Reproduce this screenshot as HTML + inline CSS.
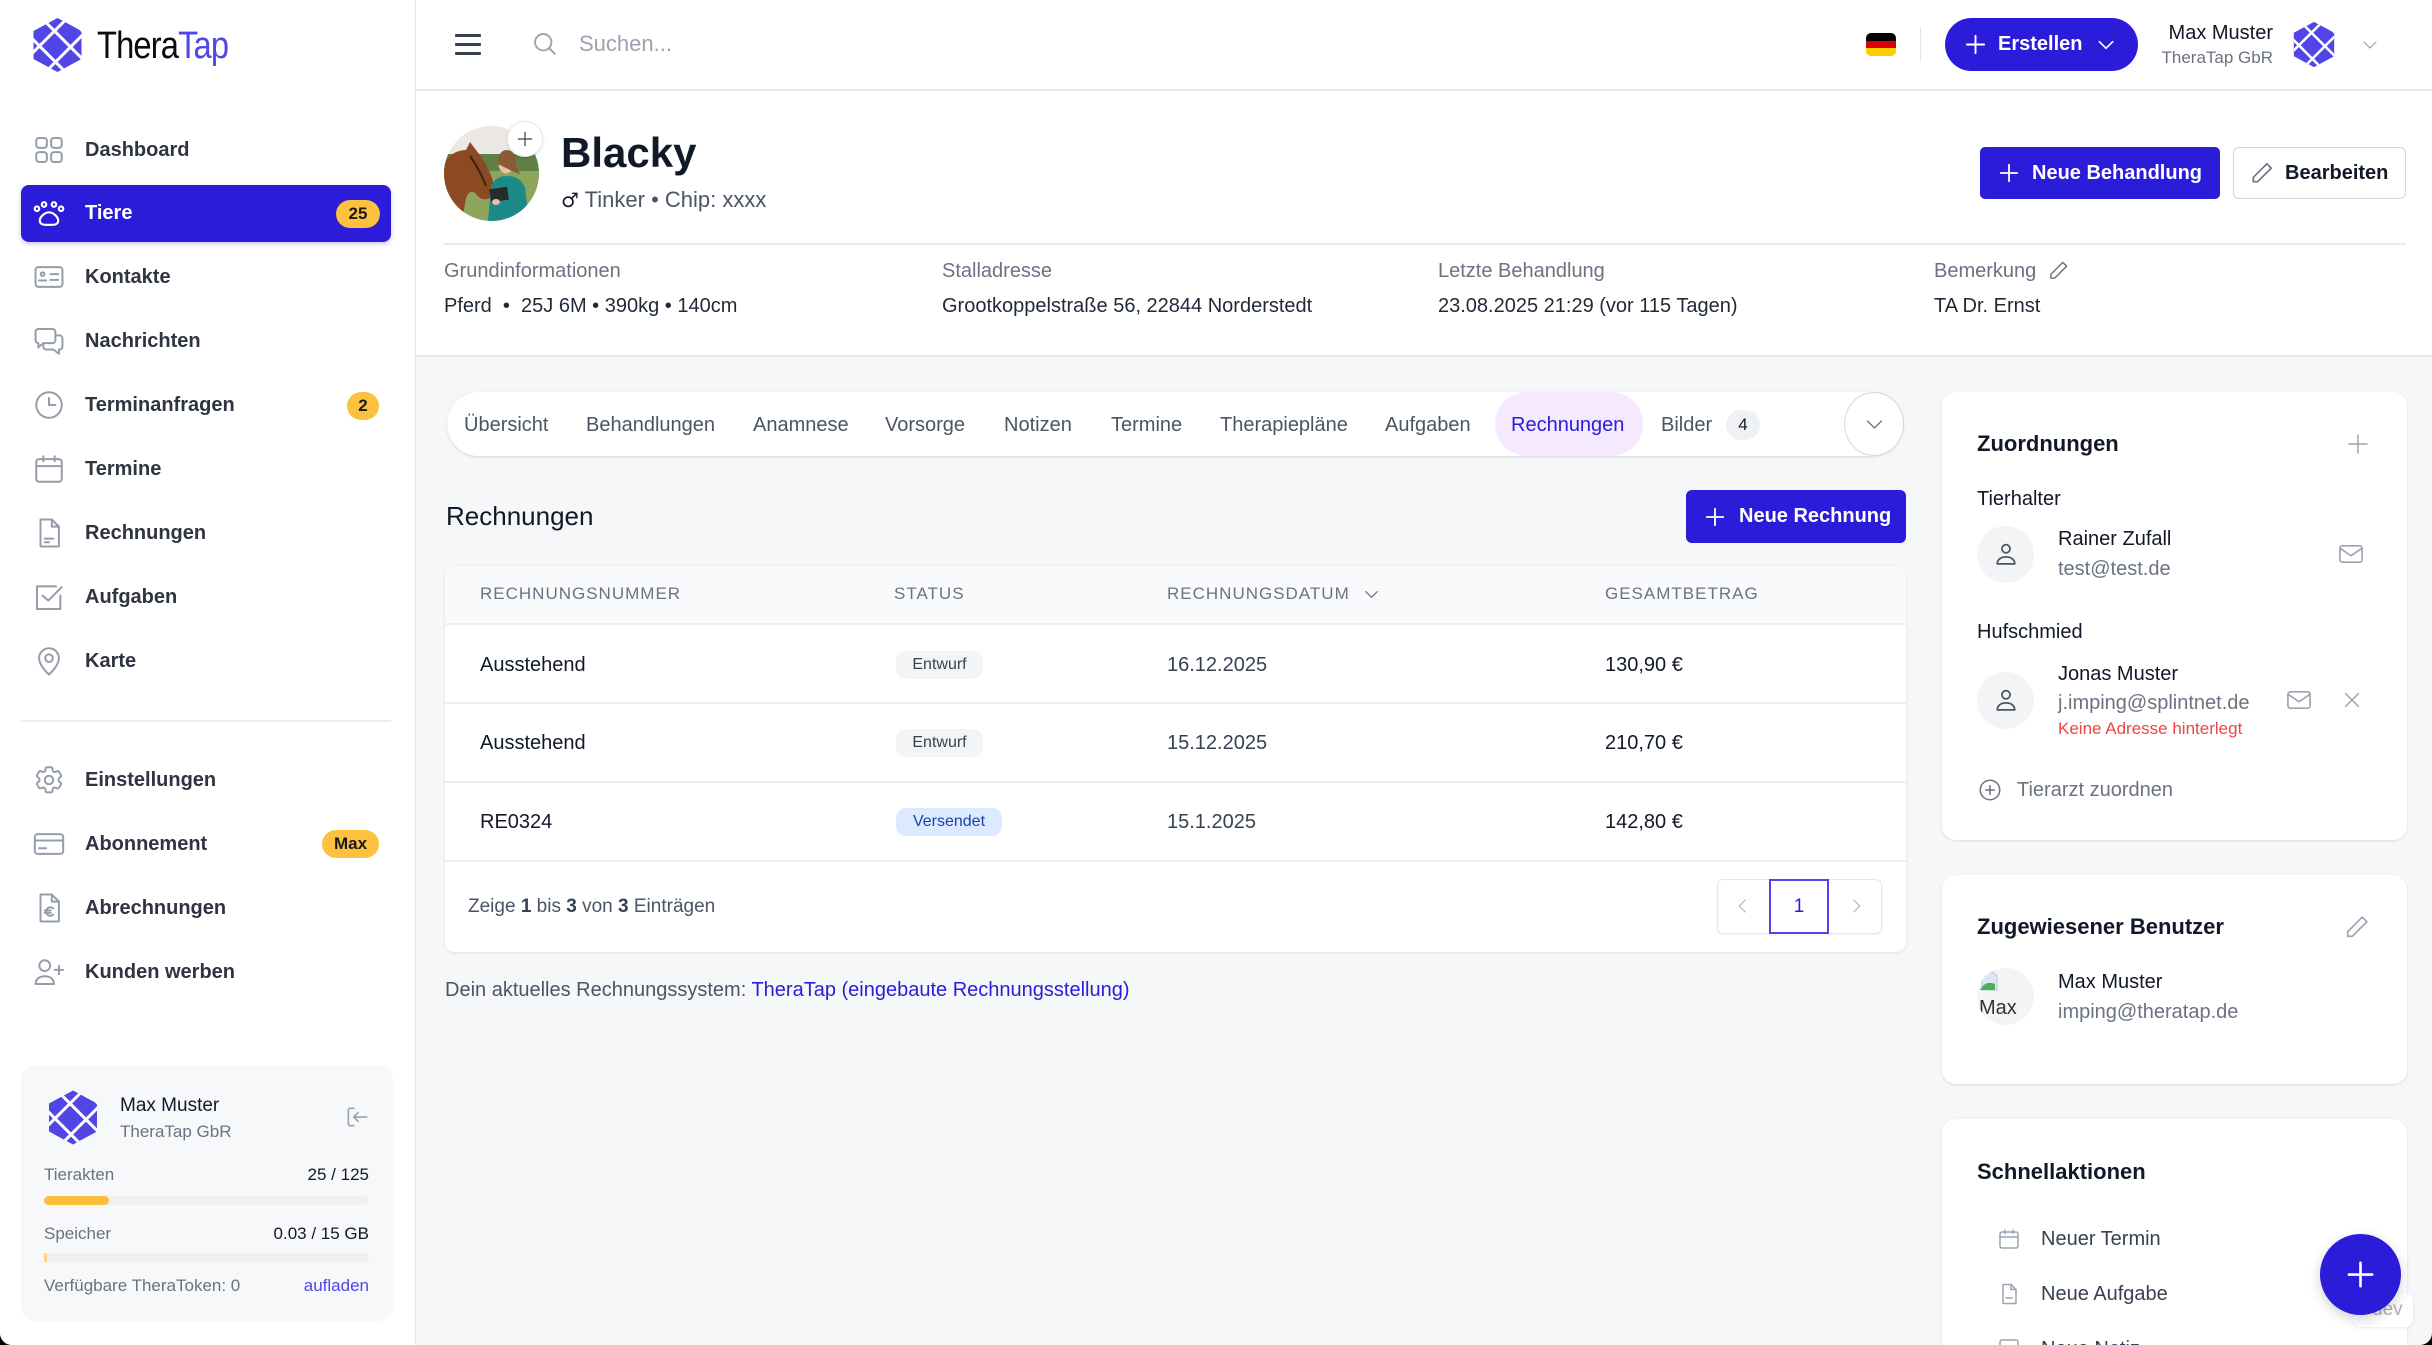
<!DOCTYPE html>
<html><head><meta charset="utf-8">
<style>
*{box-sizing:border-box;margin:0;padding:0}
html,body{width:2432px;height:1345px;background:#000;overflow:hidden}
body{font-family:"Liberation Sans",Arial,sans-serif;color:#111827}
#root{position:relative;width:2432px;height:1345px;background:#f6f7f9;overflow:hidden;border-radius:0 0 12px 12px}
.a{position:absolute;white-space:nowrap}
.t{position:absolute;white-space:nowrap;height:30px;line-height:30px}
svg.i{position:absolute;fill:none;stroke-linecap:round;stroke-linejoin:round}
.nav{font-size:20px;font-weight:bold;color:#2f3441;left:85px}
.sico{stroke:#959cab;stroke-width:1.4}
.lbl{font-size:20px;color:#6b7280}
.val{font-size:20px;color:#1f2937}
.tab{font-size:20px;color:#4b5563;top:410px}
.th{font-size:17px;color:#6b7280;letter-spacing:1px;top:13px}
.td{font-size:20px;color:#111827}
.dt{font-size:20px;color:#374151}
.card{position:absolute;background:#fff;border-radius:14px;box-shadow:0 1px 3px rgba(0,0,0,.08),0 1px 2px rgba(0,0,0,.04);overflow:hidden}
.ch{font-size:22px;font-weight:bold;color:#111827;left:35px}
.nm{font-size:20px;color:#111827}
.gr{font-size:20px;color:#6b7280}
.btn{position:absolute;background:#2a1cd8;color:#fff;font-weight:bold;font-size:20px}
</style></head><body><div id="root">

<!-- SIDEBAR -->
<div class="a" style="left:0;top:0;width:416px;height:1345px;background:#fff;border-right:1px solid #e5e7eb"></div>

<!-- logo -->
<svg class="a" style="left:32px;top:17px" width="51" height="56" viewBox="0 0 50 56">
<defs><clipPath id="hx1"><polygon points="25,1 49,14 49,42 25,55 1,42 1,14"/></clipPath></defs>
<polygon points="25,1 49,14 49,42 25,55 1,42 1,14" fill="#4f46e5"/>
<g clip-path="url(#hx1)" stroke="#fff" stroke-width="3">
<line x1="-10" y1="12" x2="38" y2="60"/><line x1="5" y1="-3" x2="55" y2="47"/><line x1="22" y1="-14" x2="70" y2="34"/>
<line x1="60" y1="8" x2="8" y2="60"/><line x1="44" y1="-8" x2="-8" y2="44"/><line x1="28" y1="-16" x2="-20" y2="32"/>
</g></svg>
<div class="a" style="left:97px;top:23px;height:46px;line-height:46px;font-size:38px;letter-spacing:-1px;transform:scaleX(.86);transform-origin:left center;color:#0b0b0b">Thera<span style="color:#4f46e5">Tap</span></div>

<!-- nav -->
<svg class="i sico" style="left:32px;top:133px" width="34" height="34" viewBox="0 0 24 24"><rect x="3" y="3.5" width="7.5" height="7" rx="2"/><rect x="13.5" y="3.5" width="7.5" height="7" rx="2"/><rect x="3" y="13.5" width="7.5" height="7" rx="2"/><rect x="13.5" y="13.5" width="7.5" height="7" rx="2"/></svg>
<div class="t nav" style="top:135px">Dashboard</div>

<div class="a" style="left:21px;top:185px;width:370px;height:57px;border-radius:8px;background:#2a1cd8;box-shadow:0 2px 5px rgba(42,28,216,.25)"></div>
<svg class="i" style="left:32px;top:196px;stroke:#fff;stroke-width:1.5" width="34" height="34" viewBox="0 0 24 24"><circle cx="3.5" cy="9" r="1.6"/><circle cx="8.5" cy="6" r="1.6"/><circle cx="15.5" cy="6" r="1.6"/><circle cx="20.5" cy="9" r="1.6"/><path d="M12 11.5c-3 0-6.5 3.3-6.5 5.8 0 2 1.5 3 3.5 3h6c2 0 3.5-1 3.5-3 0-2.5-3.5-5.8-6.5-5.8z"/></svg>
<div class="t nav" style="top:198px;color:#fff">Tiere</div>
<div class="a" style="left:336px;top:200px;width:44px;height:28px;border-radius:14px;background:#fcc23f;font-size:17px;font-weight:bold;line-height:28px;text-align:center;color:#1a1a1a">25</div>

<svg class="i sico" style="left:32px;top:260px" width="34" height="34" viewBox="0 0 24 24"><rect x="2.5" y="5" width="19" height="14" rx="2"/><circle cx="7.5" cy="10" r="1.3"/><path d="M5 14.5h5M13 10h5.5M13 14h5.5"/></svg>
<div class="t nav" style="top:262px">Kontakte</div>

<svg class="i sico" style="left:32px;top:324px" width="34" height="34" viewBox="0 0 24 24"><path d="M2.5 5.5a2 2 0 0 1 2-2h10a2 2 0 0 1 2 2v6a2 2 0 0 1-2 2H8l-3.5 3v-3h0a2 2 0 0 1-2-2z"/><path d="M16.5 8h3a2 2 0 0 1 2 2v6a2 2 0 0 1-2 2h-.5v3L15 18h-5a2 2 0 0 1-2-2v-2.5"/></svg>
<div class="t nav" style="top:326px">Nachrichten</div>

<svg class="i sico" style="left:32px;top:388px" width="34" height="34" viewBox="0 0 24 24"><circle cx="12" cy="12" r="9"/><path d="M12 7v5h4.5"/></svg>
<div class="t nav" style="top:390px">Terminanfragen</div>
<div class="a" style="left:347px;top:392px;width:32px;height:28px;border-radius:14px;background:#fcc23f;font-size:17px;font-weight:bold;line-height:28px;text-align:center;color:#1a1a1a">2</div>

<svg class="i sico" style="left:32px;top:452px" width="34" height="34" viewBox="0 0 24 24"><rect x="3" y="5" width="18" height="16" rx="2"/><path d="M3 10h18M8 3v3.5M16 3v3.5"/></svg>
<div class="t nav" style="top:454px">Termine</div>

<svg class="i sico" style="left:32px;top:516px" width="34" height="34" viewBox="0 0 24 24"><path d="M6 2.5h8l5 5V21a.5.5 0 0 1-.5.5h-12A.5.5 0 0 1 6 21z"/><path d="M14 2.5v5h5M9 16h6M9 18.5h3"/></svg>
<div class="t nav" style="top:518px">Rechnungen</div>

<svg class="i sico" style="left:32px;top:580px" width="34" height="34" viewBox="0 0 24 24"><path d="M20 11v9.5H3.5V4.5H17"/><path d="M7.5 11l4 3.5L21 5"/></svg>
<div class="t nav" style="top:582px">Aufgaben</div>

<svg class="i sico" style="left:32px;top:644px" width="34" height="34" viewBox="0 0 24 24"><path d="M12 21.5s-7-6-7-11.5a7 7 0 0 1 14 0c0 5.5-7 11.5-7 11.5z"/><circle cx="12" cy="10" r="2.7"/></svg>
<div class="t nav" style="top:646px">Karte</div>

<div class="a" style="left:21px;top:720px;width:370px;height:2px;background:#eceef1"></div>

<svg class="i sico" style="left:32px;top:763px" width="34" height="34" viewBox="0 0 24 24"><path d="M9.6 3.9c.1-.5.6-.9 1.1-.9h2.6c.6 0 1 .4 1.1.9l.2 1.3c.1.4.3.7.6.9l.2.1c.3.2.7.3 1.1.1l1.2-.5c.5-.2 1.1 0 1.4.5l1.3 2.2c.3.5.2 1.1-.3 1.4l-1 .8c-.3.2-.4.6-.4 1v.3c0 .4.1.8.4 1l1 .8c.4.4.5 1 .3 1.4l-1.3 2.2c-.3.5-.9.7-1.4.5l-1.2-.5c-.4-.1-.8-.1-1.1.1l-.2.1c-.3.2-.6.5-.6.9l-.2 1.3c-.1.5-.6.9-1.1.9h-2.6c-.6 0-1-.4-1.1-.9l-.2-1.3c-.1-.4-.3-.7-.6-.9l-.2-.1c-.3-.2-.7-.3-1.1-.1l-1.2.5c-.5.2-1.1 0-1.4-.5l-1.3-2.2c-.3-.5-.2-1.1.3-1.4l1-.8c.3-.2.4-.6.4-1v-.3c0-.4-.1-.8-.4-1l-1-.8c-.4-.4-.5-1-.3-1.4l1.3-2.2c.3-.5.9-.7 1.4-.5l1.2.5c.4.1.8.1 1.1-.1l.2-.1c.3-.2.6-.5.6-.9z"/><circle cx="12" cy="12" r="3"/></svg>
<div class="t nav" style="top:765px">Einstellungen</div>

<svg class="i sico" style="left:32px;top:827px" width="34" height="34" viewBox="0 0 24 24"><rect x="2" y="5" width="20" height="14" rx="2"/><path d="M2 9.5h20M5 15h5"/></svg>
<div class="t nav" style="top:829px">Abonnement</div>
<div class="a" style="left:322px;top:830px;width:57px;height:28px;border-radius:14px;background:#fcc23f;font-size:17px;font-weight:bold;line-height:28px;text-align:center;color:#1a1a1a">Max</div>

<svg class="i sico" style="left:32px;top:891px" width="34" height="34" viewBox="0 0 24 24"><path d="M6 2.5h8l5 5V21a.5.5 0 0 1-.5.5h-12A.5.5 0 0 1 6 21z"/><path d="M14 2.5v5h5"/><path d="M15 12.3a3 3 0 1 0 0 4.4M9 13.8h4.2M9 15.4h4.2"/></svg>
<div class="t nav" style="top:893px">Abrechnungen</div>

<svg class="i sico" style="left:32px;top:955px" width="34" height="34" viewBox="0 0 24 24"><circle cx="9" cy="7.5" r="3.8"/><path d="M2.5 20.5c0-3.5 2.8-5.5 6.5-5.5s6.5 2 6.5 5.5z"/><path d="M19 7.5v6M16 10.5h6"/></svg>
<div class="t nav" style="top:957px">Kunden werben</div>

<!-- bottom user card -->
<div class="a" style="left:21px;top:1065px;width:372px;height:256px;border-radius:14px;background:#f7f8fa"></div>
<svg class="a" style="left:48px;top:1089px" width="50" height="57" viewBox="0 0 50 56">
<defs><clipPath id="hx2"><polygon points="25,1 49,14 49,42 25,55 1,42 1,14"/></clipPath></defs>
<polygon points="25,1 49,14 49,42 25,55 1,42 1,14" fill="#4f46e5"/>
<g clip-path="url(#hx2)" stroke="#fff" stroke-width="3">
<line x1="-10" y1="12" x2="38" y2="60"/><line x1="5" y1="-3" x2="55" y2="47"/><line x1="22" y1="-14" x2="70" y2="34"/>
<line x1="60" y1="8" x2="8" y2="60"/><line x1="44" y1="-8" x2="-8" y2="44"/><line x1="28" y1="-16" x2="-20" y2="32"/>
</g></svg>
<div class="t" style="left:120px;top:1091px;font-size:19px;color:#111827">Max Muster</div>
<div class="t" style="left:120px;top:1117px;font-size:17px;color:#6b7280">TheraTap GbR</div>
<svg class="i" style="left:344px;top:1104px;stroke:#9ca3af;stroke-width:1.5" width="26" height="26" viewBox="0 0 24 24"><path d="M9 4H5.5a1.5 1.5 0 0 0-1.5 1.5v13A1.5 1.5 0 0 0 5.5 20H9"/><path d="M21 12H9.5M13 8l-4 4 4 4"/></svg>
<div class="t" style="left:44px;top:1160px;font-size:17px;color:#6b7280">Tierakten</div>
<div class="t" style="left:44px;width:325px;text-align:right;top:1160px;font-size:17px;color:#111827">25 / 125</div>
<div class="a" style="left:44px;top:1196px;width:325px;height:9px;border-radius:5px;background:#eff0f2"><div style="width:65px;height:9px;border-radius:5px;background:#fbbf3c"></div></div>
<div class="t" style="left:44px;top:1219px;font-size:17px;color:#6b7280">Speicher</div>
<div class="t" style="left:44px;width:325px;text-align:right;top:1219px;font-size:17px;color:#111827">0.03 / 15 GB</div>
<div class="a" style="left:44px;top:1253px;width:325px;height:9px;border-radius:5px;background:#eff0f2"><div style="width:3px;height:9px;background:#fcd581"></div></div>
<div class="t" style="left:44px;top:1271px;font-size:17px;color:#6b7280">Verfügbare TheraToken: 0</div>
<div class="t" style="left:44px;width:325px;text-align:right;top:1271px;font-size:17px;color:#4f46e5">aufladen</div>

<!-- HEADER -->
<div class="a" style="left:416px;top:0;width:2016px;height:91px;background:#fff;border-bottom:2px solid #e8e9ed"></div>
<div class="a" style="left:455px;top:34px;width:26px;height:2.5px;background:#374151;border-radius:1px"></div>
<div class="a" style="left:455px;top:43px;width:26px;height:2.5px;background:#374151;border-radius:1px"></div>
<div class="a" style="left:455px;top:52px;width:26px;height:2.5px;background:#374151;border-radius:1px"></div>
<svg class="i" style="left:531px;top:30px;stroke:#9ca3af;stroke-width:1.6" width="28" height="28" viewBox="0 0 24 24"><circle cx="10.5" cy="10.5" r="7"/><path d="M20.5 20.5l-5-5"/></svg>
<div class="t" style="left:579px;top:29px;font-size:22px;color:#9ca3af">Suchen...</div>

<div class="a" style="left:1866px;top:33px;width:30px;height:23px;border-radius:5px;overflow:hidden">
<div style="height:8px;background:#000"></div><div style="height:7px;background:#dd0000"></div><div style="height:8px;background:#ffce00"></div></div>
<div class="a" style="left:1920px;top:27px;width:1px;height:35px;background:#e5e7eb"></div>
<div class="btn" style="left:1945px;top:18px;width:193px;height:53px;border-radius:27px">
<svg class="i" style="left:19px;top:15px;stroke:#fff;stroke-width:2" width="23" height="23" viewBox="0 0 24 24"><path d="M12 3v18M3 12h18"/></svg>
<div class="t" style="left:53px;top:11px">Erstellen</div>
<svg class="i" style="left:151px;top:17px;stroke:#fff;stroke-width:2" width="20" height="20" viewBox="0 0 24 24"><path d="M4 8l8 8 8-8"/></svg>
</div>
<div class="t" style="right:159px;top:18px;font-size:20px;color:#111827">Max Muster</div>
<div class="t" style="right:159px;top:43px;font-size:17px;color:#6b7280">TheraTap GbR</div>
<svg class="a" style="left:2293px;top:21px" width="42" height="47" viewBox="0 0 50 56" preserveAspectRatio="none">
<defs><clipPath id="hx3"><polygon points="25,1 49,14 49,42 25,55 1,42 1,14"/></clipPath></defs>
<polygon points="25,1 49,14 49,42 25,55 1,42 1,14" fill="#4f46e5"/>
<g clip-path="url(#hx3)" stroke="#fff" stroke-width="3">
<line x1="-10" y1="12" x2="38" y2="60"/><line x1="5" y1="-3" x2="55" y2="47"/><line x1="22" y1="-14" x2="70" y2="34"/>
<line x1="60" y1="8" x2="8" y2="60"/><line x1="44" y1="-8" x2="-8" y2="44"/><line x1="28" y1="-16" x2="-20" y2="32"/>
</g></svg>
<svg class="i" style="left:2361px;top:36px;stroke:#9ca3af;stroke-width:1.6" width="18" height="18" viewBox="0 0 24 24"><path d="M4 8l8 8 8-8"/></svg>

<!-- PROFILE -->
<div class="a" style="left:416px;top:91px;width:2016px;height:266px;background:#fff;border-bottom:2px solid #e8e9ed"></div>
<svg class="a" style="left:444px;top:126px" width="95" height="95" viewBox="0 0 95 95">
<defs><clipPath id="av"><circle cx="47.5" cy="47.5" r="47.5"/></clipPath></defs>
<g clip-path="url(#av)">
<rect width="95" height="95" fill="#ece9e4"/>
<rect y="28" width="95" height="22" fill="#5f7f45"/>
<rect y="45" width="95" height="50" fill="#8ea55e"/>
<path d="M0 38 Q8 24 22 24 L26 16 L32 24 Q42 36 48 52 Q52 66 46 72 Q38 76 32 68 Q26 62 22 72 L18 95 L0 95Z" fill="#8b4a22"/>
<path d="M26 30 Q36 44 42 60" stroke="#3a2414" stroke-width="2" fill="none"/>
<ellipse cx="62" cy="38" rx="7.5" ry="9.5" fill="#e8bfa6"/>
<path d="M54 38 Q54 24 63 24 Q73 25 72 40 L76 48 L70 46Z" fill="#8d5a35"/>
<path d="M44 95 L47 60 Q52 50 62 50 Q77 50 81 62 L85 95Z" fill="#1d8a8a"/>
<rect x="46" y="62" width="18" height="13" fill="#2a2a2a" transform="rotate(-8 55 68)"/>
<ellipse cx="52" cy="76" rx="4" ry="3" fill="#e8bfa6"/>
</g></svg>
<div class="a" style="left:507px;top:121px;width:36px;height:36px;border-radius:50%;background:#fff;border:1px solid #e5e7eb;box-shadow:0 1px 3px rgba(0,0,0,.12)">
<svg class="i" style="left:8px;top:8px;stroke:#374151;stroke-width:1.6" width="18" height="18" viewBox="0 0 24 24"><path d="M12 3v18M3 12h18"/></svg></div>
<div class="a" style="left:561px;top:128px;height:50px;line-height:50px;font-size:42px;font-weight:bold;color:#111827">Blacky</div>
<div class="t" style="left:561px;top:185px;font-size:22px;color:#4b5563"><span style="font-family:'DejaVu Sans',sans-serif;font-size:20px;color:#111827">♂</span> Tinker • Chip: xxxx</div>

<div class="btn" style="left:1980px;top:147px;width:240px;height:52px;border-radius:5px">
<svg class="i" style="left:18px;top:15px;stroke:#fff;stroke-width:2" width="22" height="22" viewBox="0 0 24 24"><path d="M12 3v18M3 12h18"/></svg>
<div class="t" style="left:52px;top:11px">Neue Behandlung</div></div>
<div class="a" style="left:2233px;top:147px;width:173px;height:52px;border-radius:6px;background:#fff;border:1.5px solid #d1d5db">
<svg class="i" style="left:15px;top:12px;stroke:#6b7280;stroke-width:1.5" width="26" height="26" viewBox="0 0 24 24"><path d="M16.5 3.5l4 4L8 20H4v-4z"/></svg>
<div class="t" style="left:51px;top:10px;font-size:20px;font-weight:bold;color:#111827">Bearbeiten</div></div>

<div class="a" style="left:444px;top:243px;width:1962px;height:2px;background:#e9eaee"></div>
<div class="t lbl" style="left:444px;top:256px">Grundinformationen</div>
<div class="t lbl" style="left:942px;top:256px">Stalladresse</div>
<div class="t lbl" style="left:1438px;top:256px">Letzte Behandlung</div>
<div class="t lbl" style="left:1934px;top:256px">Bemerkung</div>
<svg class="i" style="left:2047px;top:259px;stroke:#6b7280;stroke-width:1.5" width="23" height="23" viewBox="0 0 24 24"><path d="M16.5 3.5l4 4L8 20H4v-4z"/></svg>
<div class="t val" style="left:444px;top:291px">Pferd &nbsp;•&nbsp; 25J 6M • 390kg • 140cm</div>
<div class="t val" style="left:942px;top:291px">Grootkoppelstraße 56, 22844 Norderstedt</div>
<div class="t val" style="left:1438px;top:291px">23.08.2025 21:29 (vor 115 Tagen)</div>
<div class="t val" style="left:1934px;top:291px">TA Dr. Ernst</div>

<!-- TABS -->
<div class="a" style="left:447px;top:392px;width:1456px;height:64px;border-radius:32px;background:#fff;box-shadow:0 1px 3px rgba(0,0,0,.13)"></div>
<div class="a" style="left:1495px;top:392px;width:148px;height:64px;border-radius:32px;background:#f4e9fe"></div>
<div class="t tab" style="left:464px">Übersicht</div>
<div class="t tab" style="left:586px">Behandlungen</div>
<div class="t tab" style="left:753px">Anamnese</div>
<div class="t tab" style="left:885px">Vorsorge</div>
<div class="t tab" style="left:1004px">Notizen</div>
<div class="t tab" style="left:1111px">Termine</div>
<div class="t tab" style="left:1220px">Therapiepläne</div>
<div class="t tab" style="left:1385px">Aufgaben</div>
<div class="t tab" style="left:1511px;color:#2a1cd8">Rechnungen</div>
<div class="t tab" style="left:1661px">Bilder</div>
<div class="a" style="left:1726px;top:410px;width:34px;height:30px;border-radius:15px;background:#f0f1f3;font-size:17px;line-height:30px;text-align:center;color:#111827">4</div>
<div class="a" style="left:1844px;top:392px;width:60px;height:64px;border-radius:50%;background:#fff;border:1px solid #d6d8dc">
<svg class="i" style="left:19px;top:21px;stroke:#6b7280;stroke-width:1.5" width="21" height="21" viewBox="0 0 24 24"><path d="M4 8l8 8 8-8"/></svg></div>

<div class="t" style="left:446px;top:501px;font-size:26px;color:#111827">Rechnungen</div>
<div class="btn" style="left:1686px;top:490px;width:220px;height:53px;border-radius:6px">
<svg class="i" style="left:18px;top:16px;stroke:#fff;stroke-width:2" width="22" height="22" viewBox="0 0 24 24"><path d="M12 3v18M3 12h18"/></svg>
<div class="t" style="left:53px;top:11px">Neue Rechnung</div></div>

<!-- TABLE -->
<div class="a" style="left:445px;top:566px;width:1461px;height:386px;border-radius:10px;background:#fff;box-shadow:0 1px 3px rgba(0,0,0,.1);overflow:hidden">
<div class="a" style="left:0;top:0;width:1461px;height:59px;background:#f9fafb;border-bottom:2px solid #eceef1"></div>
<div class="t th" style="left:35px">RECHNUNGSNUMMER</div>
<div class="t th" style="left:449px">STATUS</div>
<div class="t th" style="left:722px">RECHNUNGSDATUM</div>
<svg class="i" style="left:918px;top:20px;stroke:#6b7280;stroke-width:1.8" width="17" height="17" viewBox="0 0 24 24"><path d="M4 8l8 8 8-8"/></svg>
<div class="t th" style="left:1160px">GESAMTBETRAG</div>
<div class="a" style="left:0;top:136px;width:1461px;height:2px;background:#eceef1"></div>
<div class="a" style="left:0;top:215px;width:1461px;height:2px;background:#eceef1"></div>
<div class="a" style="left:0;top:294px;width:1461px;height:2px;background:#eceef1"></div>

<div class="t td" style="left:35px;top:84px">Ausstehend</div>
<div class="a" style="left:451px;top:85px;width:87px;height:28px;border-radius:10px;background:#f3f4f6;font-size:16px;line-height:28px;text-align:center;color:#374151">Entwurf</div>
<div class="t dt" style="left:722px;top:84px">16.12.2025</div>
<div class="t td" style="left:1160px;top:84px">130,90 €</div>

<div class="t td" style="left:35px;top:162px">Ausstehend</div>
<div class="a" style="left:451px;top:163px;width:87px;height:28px;border-radius:10px;background:#f3f4f6;font-size:16px;line-height:28px;text-align:center;color:#374151">Entwurf</div>
<div class="t dt" style="left:722px;top:162px">15.12.2025</div>
<div class="t td" style="left:1160px;top:162px">210,70 €</div>

<div class="t td" style="left:35px;top:241px">RE0324</div>
<div class="a" style="left:451px;top:242px;width:106px;height:28px;border-radius:10px;background:#dbeafe;font-size:16px;line-height:28px;text-align:center;color:#1e40af">Versendet</div>
<div class="t dt" style="left:722px;top:241px">15.1.2025</div>
<div class="t td" style="left:1160px;top:241px">142,80 €</div>

<div class="t" style="left:23px;top:326px;font-size:19px;color:#4b5563">Zeige <b style="color:#374151">1</b> bis <b style="color:#374151">3</b> von <b style="color:#374151">3</b> Einträgen</div>
<div class="a" style="left:1272px;top:313px;width:165px;height:55px;border:1px solid #e5e7eb;border-radius:6px;box-shadow:0 1px 2px rgba(0,0,0,.06)"></div>
<svg class="i" style="left:1289px;top:331px;stroke:#b0b5bf;stroke-width:1.6" width="18" height="18" viewBox="0 0 24 24"><path d="M15 4l-8 8 8 8"/></svg>
<div class="a" style="left:1324px;top:313px;width:60px;height:55px;border:2px solid #4f46e5;font-size:19px;line-height:51px;text-align:center;color:#2a1cd8">1</div>
<svg class="i" style="left:1402px;top:331px;stroke:#b0b5bf;stroke-width:1.6" width="18" height="18" viewBox="0 0 24 24"><path d="M9 4l8 8-8 8"/></svg>
</div>
<div class="t" style="left:445px;top:975px;font-size:20px;color:#4b5563">Dein aktuelles Rechnungssystem: <span style="color:#2a1cd8">TheraTap (eingebaute Rechnungsstellung)</span></div>

<!-- RIGHT CARDS -->
<div class="card" style="left:1942px;top:392px;width:465px;height:448px">
<div class="t ch" style="top:37px">Zuordnungen</div>
<svg class="i" style="left:404px;top:40px;stroke:#9ca3af;stroke-width:1.5" width="24" height="24" viewBox="0 0 24 24"><path d="M12 3v18M3 12h18"/></svg>
<div class="t nm" style="left:35px;top:92px">Tierhalter</div>
<div class="a" style="left:35px;top:134px;width:57px;height:57px;border-radius:50%;background:#f3f4f6">
<svg class="i" style="left:15px;top:14px;stroke:#4b5563;stroke-width:1.5" width="28" height="28" viewBox="0 0 24 24"><circle cx="12" cy="7.5" r="3.5"/><path d="M4.5 20.5c0-3.8 3.3-6 7.5-6s7.5 2.2 7.5 6z"/></svg></div>
<div class="t nm" style="left:116px;top:132px">Rainer Zufall</div>
<div class="t gr" style="left:116px;top:162px">test@test.de</div>
<svg class="i" style="left:395px;top:148px;stroke:#9ca3af;stroke-width:1.4" width="28" height="28" viewBox="0 0 24 24"><rect x="2.5" y="5" width="19" height="14" rx="2"/><path d="M2.5 7l9.5 6.5L21.5 7"/></svg>
<div class="t nm" style="left:35px;top:225px">Hufschmied</div>
<div class="a" style="left:35px;top:280px;width:57px;height:57px;border-radius:50%;background:#f3f4f6">
<svg class="i" style="left:15px;top:14px;stroke:#4b5563;stroke-width:1.5" width="28" height="28" viewBox="0 0 24 24"><circle cx="12" cy="7.5" r="3.5"/><path d="M4.5 20.5c0-3.8 3.3-6 7.5-6s7.5 2.2 7.5 6z"/></svg></div>
<div class="t nm" style="left:116px;top:267px">Jonas Muster</div>
<div class="t gr" style="left:116px;top:296px">j.imping@splintnet.de</div>
<div class="t" style="left:116px;top:322px;font-size:17px;color:#ef4444">Keine Adresse hinterlegt</div>
<svg class="i" style="left:343px;top:294px;stroke:#9ca3af;stroke-width:1.4" width="28" height="28" viewBox="0 0 24 24"><rect x="2.5" y="5" width="19" height="14" rx="2"/><path d="M2.5 7l9.5 6.5L21.5 7"/></svg>
<svg class="i" style="left:399px;top:297px;stroke:#9ca3af;stroke-width:1.6" width="22" height="22" viewBox="0 0 24 24"><path d="M5 5l14 14M19 5L5 19"/></svg>
<svg class="i" style="left:35px;top:385px;stroke:#6b7280;stroke-width:1.4" width="26" height="26" viewBox="0 0 24 24"><circle cx="12" cy="12" r="9"/><path d="M12 8v8M8 12h8"/></svg>
<div class="t gr" style="left:75px;top:383px">Tierarzt zuordnen</div>
</div>

<div class="card" style="left:1942px;top:875px;width:465px;height:209px">
<div class="t ch" style="top:37px">Zugewiesener Benutzer</div>
<svg class="i" style="left:401px;top:38px;stroke:#9ca3af;stroke-width:1.4" width="28" height="28" viewBox="0 0 24 24"><path d="M16.5 3.5l4 4L8 20H4v-4z"/></svg>
<div class="a" style="left:35px;top:93px;width:57px;height:57px;border-radius:50%;background:#f3f4f6;overflow:hidden">
<svg class="a" style="left:1px;top:2px" width="24" height="22" viewBox="0 0 24 22"><path d="M4 2h11l4 4v14H4z" fill="#dbe6f7" stroke="#b9c7dd" stroke-width="1"/><path d="M2 20c3-6 8-9 15-6v6z" fill="#4caf50"/></svg>
<div class="t" style="left:2px;top:25px;font-size:20px;color:#333">Max</div></div>
<div class="t nm" style="left:116px;top:92px">Max Muster</div>
<div class="t gr" style="left:116px;top:122px">imping@theratap.de</div>
</div>

<div class="card" style="left:1942px;top:1119px;width:465px;height:226px;border-radius:14px 14px 0 0">
<div class="t ch" style="top:38px">Schnellaktionen</div>
<svg class="i" style="left:55px;top:108px;stroke:#9ca3af;stroke-width:1.5" width="24" height="24" viewBox="0 0 24 24"><rect x="3" y="5" width="18" height="16" rx="2"/><path d="M3 10h18M8 3v3.5M16 3v3.5"/></svg>
<div class="t" style="left:99px;top:105px;font-size:20px;color:#374151">Neuer Termin</div>
<svg class="i" style="left:55px;top:163px;stroke:#9ca3af;stroke-width:1.5" width="24" height="24" viewBox="0 0 24 24"><path d="M6 2.5h8l5 5V21a.5.5 0 0 1-.5.5h-12A.5.5 0 0 1 6 21z"/><path d="M14 2.5v5h5M9 16h6"/></svg>
<div class="t" style="left:99px;top:160px;font-size:20px;color:#374151">Neue Aufgabe</div>
<svg class="i" style="left:55px;top:218px;stroke:#9ca3af;stroke-width:1.5" width="24" height="24" viewBox="0 0 24 24"><rect x="3" y="3" width="18" height="18" rx="2"/></svg>
<div class="t" style="left:99px;top:215px;font-size:20px;color:#374151">Neue Notiz</div>
</div>

<div class="a" style="left:2353px;top:1293px;width:60px;height:34px;border-radius:8px;background:rgba(255,255,255,.92);box-shadow:0 1px 4px rgba(0,0,0,.08);font-size:19px;line-height:34px;color:#aab0bb;padding-left:19px">dev</div>
<div class="a" style="left:2320px;top:1234px;width:81px;height:81px;border-radius:50%;background:#2a1cd8;box-shadow:0 4px 12px rgba(0,0,0,.18)">
<svg class="i" style="left:23px;top:23px;stroke:#fff;stroke-width:1.8" width="35" height="35" viewBox="0 0 24 24"><path d="M12 4v16M4 12h16"/></svg></div>

</div></body></html>
